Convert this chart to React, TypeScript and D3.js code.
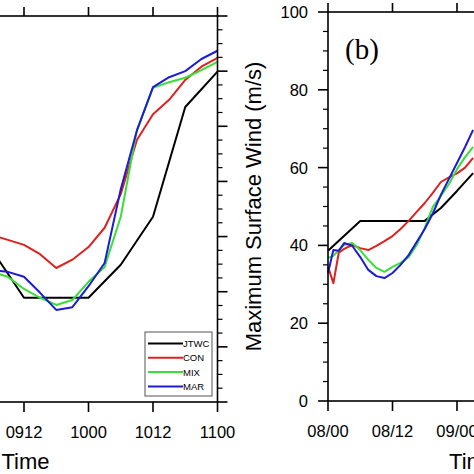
import React from "react";
import * as d3 from "d3";

// ---------- Data ----------
// Left panel (hours since day 08 00Z)
const leftModelHours = [24, 27, 30, 33, 36, 39, 42, 45, 48, 51, 54, 57, 60, 63, 66, 69, 72];
const leftCON = [31.2, 30.8, 30.3, 29.4, 28.5, 26.8, 24.3, 25.8, 28.1, 31.6, 37.7, 47.5, 52.2, 54.8, 58.4, 60.8, 62.4];
const leftMIX = [24.7, 24.3, 23.6, 22.7, 20.5, 18.9, 17.6, 18.5, 21.8, 24.5, 33.6, 49.3, 57.0, 58.0, 58.8, 60.2, 61.7];
const leftMAR = [25.4, 24.9, 23.9, 23.6, 22.7, 19.8, 16.7, 17.2, 21.0, 25.2, 38.6, 49.2, 57.1, 58.9, 60.0, 62.2, 63.7];
const leftJTWCHours = [24, 30, 36, 42, 48, 54, 60, 66, 72];
const leftJTWC = [29.0, 27.6, 18.9, 18.9, 18.9, 24.9, 33.6, 53.5, 59.9];

// Right panel (hours since 08/00)
const rightModelHours = [0, 1, 2, 3, 4.5, 6, 7.5, 9, 10.5, 12, 13.5, 15, 16.5, 18, 19.5, 21, 22.5, 24, 25.5, 27];
const rightCON = [34.5, 30.3, 38.1, 39.1, 40.1, 39.3, 38.8, 39.9, 41.1, 42.4, 44.2, 46.3, 48.6, 50.9, 53.5, 56.3, 57.5, 58.5, 60.0, 62.5];
const rightMIX = [36.8, 37.3, 38.8, 40.1, 40.6, 38.8, 36.3, 34.2, 33.2, 34.5, 35.5, 37.0, 40.1, 44.5, 49.9, 52.7, 55.8, 59.6, 62.7, 65.3];
const rightMAR = [32.9, 38.8, 38.6, 40.6, 39.9, 37.0, 33.7, 32.1, 31.6, 32.9, 35.0, 37.5, 40.9, 44.2, 48.2, 53.0, 57.1, 61.2, 65.3, 69.7];
const rightJTWCHours = [0, 6, 12, 18, 21, 24, 27];
const rightJTWC = [38.6, 46.3, 46.3, 46.3, 49.6, 54.0, 58.6];

const seriesNames = ["JTWC", "CON", "MIX", "MAR"];
const seriesColors = ["#000000", "#e02020", "#3ade3a", "#1c1cd8"];

const leftXTicks = [0, 12, 24, 36, 48, 60, 72];
const rightXTicks = [0, 12, 24, 36, 48];
const leftYTicks = [0, 10, 20, 30, 40, 50, 60, 70];
const rightYTicks = [0, 20, 40, 60, 80, 100];

const SANS = "'Liberation Sans', Arial, Helvetica, sans-serif";
const SERIF = "'Liberation Serif', 'Times New Roman', serif";

const pad2 = (n: number) => (n < 10 ? "0" + n : "" + n);
const leftFmt = (h: number) => pad2(8 + Math.floor(h / 24)) + pad2(h % 24);
const rightFmt = (h: number) => pad2(8 + Math.floor(h / 24)) + "/" + pad2(h % 24);

export default function App() {
  const W = 474, H = 474;
  const pxPerHour = 5.375;

  // Left panel scales
  const lxR = 217.5;
  const xL = d3.scaleLinear().domain([0, 72]).range([lxR - 72 * pxPerHour, lxR]);
  const yL = d3.scaleLinear().domain([0, 70]).range([402, 16]);
  // Right panel scales
  const rx0 = 328;
  const xR = d3.scaleLinear().domain([0, 54]).range([rx0, rx0 + 54 * pxPerHour]);
  const yR = d3.scaleLinear().domain([0, 100]).range([401, 12]);

  const mk = (xs: d3.ScaleLinear<number, number>, ys: d3.ScaleLinear<number, number>, hrs: number[], vals: number[]) =>
    d3.line<number>().x((_, i) => xs(hrs[i])).y((d) => ys(d))(vals) || "";

  const leftLines = [
    mk(xL, yL, leftJTWCHours, leftJTWC),
    mk(xL, yL, leftModelHours, leftCON),
    mk(xL, yL, leftModelHours, leftMIX),
    mk(xL, yL, leftModelHours, leftMAR),
  ];
  const rightLines = [
    mk(xR, yR, rightJTWCHours, rightJTWC),
    mk(xR, yR, rightModelHours, rightCON),
    mk(xR, yR, rightModelHours, rightMIX),
    mk(xR, yR, rightModelHours, rightMAR),
  ];

  const axisW = 1.6;
  const lineW = 2;

  const minorL = d3.range(0, 70.01, 2.5).filter((v) => v % 10 !== 0);
  const minorR = d3.range(0, 100.01, 5).filter((v) => v % 20 !== 0);

  const [lx0, lx1] = xL.range();
  const [ly0, ly1] = yL.range();
  const [rxa, rxb] = xR.range();
  const [ry0, ry1] = yR.range();

  return (
    <svg width={W} height={H} style={{ position: "absolute", left: 0, top: 0, background: "#fff" }}>
      <rect x={0} y={0} width={W} height={H} fill="#fff" />
      {/* ----- Left panel ----- */}
      <g>
        {leftLines.map((d, i) => (
          <path key={i} d={d} fill="none" stroke={seriesColors[i]} strokeWidth={lineW} strokeLinejoin="round" />
        ))}
        <rect x={lx0} y={ly1} width={lx1 - lx0} height={ly0 - ly1} fill="none" stroke="#000" strokeWidth={axisW} />
        {leftXTicks.map((t) => (
          <g key={t}>
            <line x1={xL(t)} x2={xL(t)} y1={ly0} y2={ly0 + 10} stroke="#000" strokeWidth={axisW} />
            <line x1={xL(t)} x2={xL(t)} y1={ly1} y2={ly1 - 9} stroke="#000" strokeWidth={axisW} />
            {xL(t) > 0 && (
              <text x={xL(t)} y={437.5} textAnchor="middle" fontFamily={SANS} fontSize={16.5} fill="#000">
                {leftFmt(t)}
              </text>
            )}
          </g>
        ))}
        {leftYTicks.map((t) => (
          <g key={t}>
            <line x1={lx1} x2={lx1 + 10} y1={yL(t)} y2={yL(t)} stroke="#000" strokeWidth={axisW} />
          </g>
        ))}
        {minorL.map((t) => (
          <g key={t}>
            <line x1={lx1} x2={lx1 + 5} y1={yL(t)} y2={yL(t)} stroke="#000" strokeWidth={1.2} />
          </g>
        ))}
        <text x={25.5} y={469} textAnchor="middle" fontFamily={SANS} fontSize={22} fill="#000">
          Time
        </text>
        {/* Legend */}
        <rect x={145} y={332} width={67} height={64} fill="#fff" stroke="#555" strokeWidth={1} />
        {seriesNames.map((n, i) => {
          const yy = 343.5 + i * 14.3;
          return (
            <g key={n}>
              <line x1={148} x2={183} y1={yy} y2={yy} stroke={seriesColors[i]} strokeWidth={lineW} />
              <text x={183} y={yy + 3.4} fontFamily={SANS} fontSize={9.5} fill="#000">
                {n}
              </text>
            </g>
          );
        })}
      </g>

      {/* ----- Right panel ----- */}
      <g>
        {rightLines.map((d, i) => (
          <path key={i} d={d} fill="none" stroke={seriesColors[i]} strokeWidth={lineW} strokeLinejoin="round" />
        ))}
        <rect x={rxa} y={ry1} width={rxb - rxa} height={ry0 - ry1} fill="none" stroke="#000" strokeWidth={axisW} />
        {rightXTicks.map((t) => (
          <g key={t}>
            <line x1={xR(t)} x2={xR(t)} y1={ry0} y2={ry0 + 10} stroke="#000" strokeWidth={axisW} />
            <line x1={xR(t)} x2={xR(t)} y1={ry1} y2={ry1 - 9} stroke="#000" strokeWidth={axisW} />
            {xR(t) < W && (
              <text x={xR(t)} y={437} textAnchor="middle" fontFamily={SANS} fontSize={16.5} fill="#000">
                {rightFmt(t)}
              </text>
            )}
          </g>
        ))}
        {rightYTicks.map((t) => (
          <g key={t}>
            <line x1={rxa} x2={rxa - 10} y1={yR(t)} y2={yR(t)} stroke="#000" strokeWidth={axisW} />
            <text x={308} y={yR(t) + 6} textAnchor="end" fontFamily={SANS} fontSize={16.5} fill="#000">
              {t}
            </text>
          </g>
        ))}
        {minorR.map((t) => (
          <line key={t} x1={rxa} x2={rxa - 5} y1={yR(t)} y2={yR(t)} stroke="#000" strokeWidth={1.2} />
        ))}
        <text x={(rxa + rxb) / 2} y={469} textAnchor="middle" fontFamily={SANS} fontSize={22} fill="#000">
          Time
        </text>
        <text
          transform={`translate(261,${(ry0 + ry1) / 2}) rotate(-90)`}
          textAnchor="middle"
          fontFamily={SANS}
          fontSize={22}
          fill="#000"
        >
          Maximum Surface Wind (m/s)
        </text>
        <text x={345} y={59} fontFamily={SERIF} fontSize={29} fill="#000">
          (b)
        </text>
      </g>
    </svg>
  );
}
